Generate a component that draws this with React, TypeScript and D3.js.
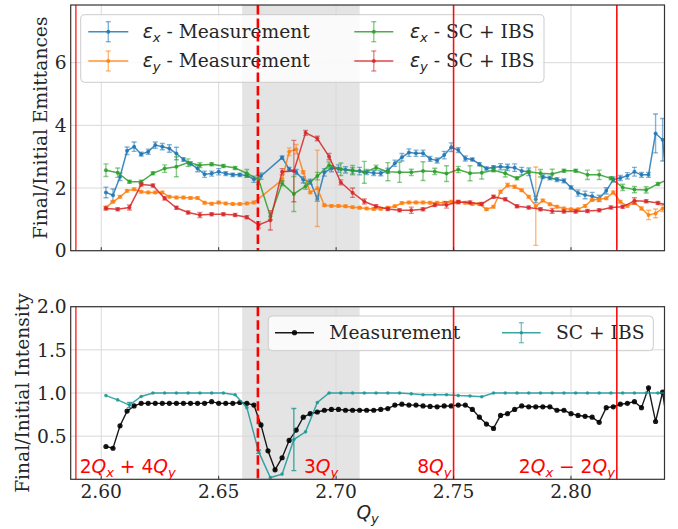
import React from 'react';
import * as d3 from 'd3';

// ---------------- data ----------------
const qMeas = [2.602, 2.605, 2.608, 2.611, 2.614, 2.617, 2.620, 2.623, 2.626, 2.629,
  2.632, 2.635, 2.638, 2.641, 2.644, 2.647, 2.650, 2.653, 2.656, 2.659,
  2.662, 2.665, 2.668, 2.671, 2.674, 2.677, 2.680, 2.683, 2.686, 2.689,
  2.692, 2.695, 2.698, 2.701, 2.704, 2.707, 2.710, 2.713, 2.716, 2.719,
  2.722, 2.725, 2.728, 2.731, 2.734, 2.737, 2.740, 2.743, 2.746, 2.749,
  2.752, 2.755, 2.758, 2.761, 2.764, 2.767, 2.770, 2.773, 2.776, 2.779,
  2.782, 2.785, 2.788, 2.791, 2.794, 2.797, 2.800, 2.803, 2.806, 2.809,
  2.812, 2.815, 2.818, 2.821, 2.824, 2.827, 2.830, 2.833, 2.836, 2.839,
  2.842];

const qSim = [2.602, 2.607, 2.612, 2.617, 2.622, 2.627, 2.632, 2.637, 2.642, 2.647,
  2.652, 2.657, 2.662, 2.667, 2.672, 2.677, 2.682, 2.687, 2.692, 2.697,
  2.702, 2.707, 2.712, 2.717, 2.722, 2.727, 2.732, 2.737, 2.742, 2.747,
  2.752, 2.757, 2.762, 2.767, 2.772, 2.777, 2.782, 2.787, 2.792, 2.797,
  2.802, 2.807, 2.812, 2.817, 2.822, 2.827, 2.832, 2.837, 2.842];

const epsXMeas = [1.86, 1.77, 2.36, 3.19, 3.32, 3.08, 3.16, 3.37, 3.32, 3.26,
  3.10, 2.91, 2.78, 2.62, 2.44, 2.46, 2.52, 2.46, 2.42, 2.42,
  2.40, 2.28, 2.38, null, null, 2.97, 2.60, 2.51, 2.26, 2.20,
  1.66, 2.50, 2.62, 2.62, 2.58, 2.55, 2.54, 2.51, 2.48, 2.47,
  2.55, 2.79, 2.98, 3.13, 3.11, 3.11, 2.93, 2.88, 3.05, 3.30,
  3.21, 2.94, 2.91, 2.76, 2.62, 2.66, 2.68, 2.66, 2.65, 2.54,
  2.52, 1.64, 2.36, 2.32, 2.27, 2.23, 2.02, 1.84, 1.78, 1.74,
  1.67, 1.91, 2.27, 2.32, 2.39, 2.52, 2.42, 2.42, 3.74, 3.54,
  1.20];
const epsXMeasErr = [0.17, 0.2, 0.12, 0.12, 0.15, 0.06, 0.08, 0.1, 0.1, 0.12,
  0.2, 0.06, 0.06, 0.1, 0.1, 0.08, 0.1, 0.06, 0.05, 0.05,
  0.06, 0.1, 0.1, 0, 0, 0.05, 0.06, 0.08, 0.1, 0.08,
  0.08, 0.12, 0.1, 0.12, 0.1, 0.1, 0.12, 0.08, 0.08, 0.08,
  0.08, 0.1, 0.12, 0.12, 0.1, 0.1, 0.08, 0.08, 0.12, 0.14,
  0.08, 0.08, 0.05, 0.05, 0.05, 0.05, 0.1, 0.1, 0.12, 0.12,
  0.12, 0.1, 0.06, 0.06, 0.06, 0.06, 0.05, 0.1, 0.12, 0.12,
  0.1, 0.1, 0.08, 0.08, 0.1, 0.14, 0.08, 0.08, 0.62, 0.68,
  0.3];

const epsYMeas = [1.38, 1.56, 1.72, 1.91, 1.96, 1.88, 1.86, 1.86, 1.86, 1.72,
  1.70, 1.70, 1.68, 1.68, 1.53, 1.50, 1.54, 1.51, 1.49, 1.49,
  1.51, 1.54, null, null, null, 2.26, 3.16, 3.24, 2.50, 1.86,
  1.99, 1.45, 1.43, 1.43, 1.42, 1.39, 1.37, 1.35, 1.33, 1.34,
  1.37, 1.42, 1.52, 1.54, 1.54, 1.54, 1.53, 1.53, 1.53, 1.56,
  1.56, 1.53, 1.49, 1.49, 1.32, 1.40, 1.88, 2.09, 2.04, 1.93,
  1.72, 1.42, 1.60, 1.48, 1.40, 1.35, 1.32, 1.32, 1.43, 1.62,
  1.64, 1.67, 1.86, 1.56, 1.43, 1.53, 1.35, 1.14, 1.19, 1.35,
  1.45];
const epsYMeasErr = [0.04, 0.04, 0.04, 0.04, 0.04, 0.04, 0.04, 0.04, 0.04, 0.04,
  0.04, 0.04, 0.04, 0.04, 0.04, 0.04, 0.04, 0.04, 0.04, 0.04,
  0.04, 0.04, 0, 0, 0, 0.05, 0.12, 0.15, 0.05, 0.04,
  1.22, 0.04, 0.04, 0.04, 0.04, 0.04, 0.04, 0.04, 0.04, 0.04,
  0.04, 0.04, 0.04, 0.04, 0.04, 0.04, 0.04, 0.04, 0.04, 0.04,
  0.04, 0.04, 0.04, 0.04, 0.04, 0.04, 0.05, 0.06, 0.05, 0.04,
  0.04, 1.25, 0.04, 0.04, 0.04, 0.04, 0.04, 0.04, 0.04, 0.04,
  0.04, 0.04, 0.05, 0.04, 0.04, 0.04, 0.05, 0.15, 0.14, 0.1,
  0.05];

const epsXSim = [2.57, 2.49, 2.20, 2.20, 2.47, 2.62, 2.68, 2.81, 2.73, 2.76,
  2.70, 2.64, 2.47, 2.26, 1.10, 2.15, 1.81, 2.06, 2.38, 2.73,
  2.60, 2.57, 2.50, 2.65, 2.52, 2.50, 2.50, 2.54, 2.53, 2.46,
  2.59, 2.47, 2.49, 2.57, 2.47, 2.31, 2.52, 2.47, 2.45, 2.55,
  2.55, 2.42, 2.42, 2.31, 2.02, 1.95, 1.94, 2.13, 2.30];
const epsXSimErr = [0.2, 0.15, 0.05, 0.05, 0.05, 0.12, 0.32, 0.12, 0.08, 0.05,
  0.05, 0.05, 0.12, 0.15, 0.1, 0.08, 0.56, 0.1, 0.12, 0.1,
  0.2, 0.15, 0.35, 0.08, 0.29, 0.32, 0.1, 0.3, 0.1, 0.25,
  0.1, 0.24, 0.2, 0.05, 0.12, 0.05, 0.05, 0.12, 0.15, 0.05,
  0.05, 0.15, 0.15, 0.05, 0.1, 0.1, 0.1, 0.05, 0.05];

const epsYSim = [1.35, 1.32, 1.38, 2.11, 2.08, 1.67, 1.37, 1.22, 1.14, 1.16,
  1.16, 1.14, 1.07, 0.82, 0.97, 2.52, 2.54, 3.76, 3.58, 3.00,
  2.18, 1.85, 1.57, 1.42, 1.33, 1.29, 1.29, 1.32, 1.46, 1.46,
  1.55, 1.54, 1.49, 1.72, 1.64, 1.42, 1.38, 1.32, 1.27, 1.25,
  1.25, 1.27, 1.29, 1.38, 1.40, 1.59, 1.58, 1.52, 1.45];
const epsYSimErr = [0.05, 0.05, 0.08, 0.05, 0.05, 0.05, 0.05, 0.05, 0.08, 0.05,
  0.05, 0.05, 0.05, 0.1, 0.31, 0.1, 0.98, 0.08, 0.07, 0.1,
  0.08, 0.15, 0.08, 0.05, 0.05, 0.05, 0.1, 0.05, 0.05, 0.1,
  0.05, 0.05, 0.05, 0.05, 0.05, 0.05, 0.05, 0.05, 0.08, 0.05,
  0.05, 0.05, 0.05, 0.05, 0.05, 0.1, 0.05, 0.05, 0.05];

const intMeas = [0.38, 0.36, 0.62, 0.79, 0.85, 0.88, 0.88, 0.88, 0.88, 0.88,
  0.88, 0.88, 0.88, 0.88, 0.88, 0.90, 0.88, 0.88, 0.88, 0.89,
  0.88, 0.86, 0.63, 0.33, 0.11, 0.25, 0.45, 0.57, 0.72, 0.76,
  0.78, 0.80, 0.81, 0.81, 0.80, 0.80, 0.80, 0.80, 0.80, 0.81,
  0.82, 0.86, 0.87, 0.86, 0.86, 0.85, 0.845, 0.84, 0.85, 0.85,
  0.86, 0.86, 0.81, 0.72, 0.64, 0.59, 0.74, 0.76, 0.81, 0.85,
  0.84, 0.84, 0.84, 0.84, 0.80, 0.80, 0.76, 0.74, 0.73, 0.72,
  0.66, 0.83, 0.84, 0.87, 0.88, 0.90, 0.83, 1.06, 0.67, 1.01,
  0.45];

const intSim = [0.97, 0.92, 0.86, 0.96, 1.0, 1.0, 1.0, 1.0, 1.0, 1.0,
  1.0, 0.98, 0.83, 0.32, 0.02, 0.06, 0.46, 0.55, 0.89, 1.0,
  1.0, 1.0, 1.0, 1.0, 1.0, 1.0, 0.99, 0.98, 0.98, 0.98,
  0.97, 0.965, 0.957, 1.0, 1.0, 1.0, 1.0, 1.0, 1.0, 1.0,
  1.0, 1.0, 1.0, 1.0, 1.0, 1.0, 1.0, 1.0, 1.0];
const intSimErr = [0, 0, 0.03, 0, 0, 0, 0, 0, 0, 0,
  0, 0, 0, 0.02, 0, 0, 0.36, 0, 0, 0,
  0, 0, 0, 0, 0, 0, 0, 0, 0, 0,
  0, 0, 0, 0, 0, 0, 0, 0, 0, 0,
  0, 0, 0, 0, 0, 0, 0, 0, 0];

const xTicks = [2.60, 2.65, 2.70, 2.75, 2.80];
const xTickLabels = ['2.60', '2.65', '2.70', '2.75', '2.80'];
const yTicksTop = [0, 2, 4, 6];
const yTickLabelsTop = ['0', '2', '4', '6'];
const yTicksBottom = [0.5, 1.0, 1.5, 2.0];
const yTickLabelsBottom = ['0.5', '1.0', '1.5', '2.0'];
const resonanceLines = [2.5892, 2.75, 2.8195];
const resonanceDashed = [2.6667];
const shadedSpan = [2.66, 2.71];

// ---------------- layout ----------------
const W = 678, H = 529;
const L = 70.7, R = 664.5;
const T1 = 5, B1 = 250.7;
const T2 = 306.7, B2 = 479.3;
const FS = 18.67;
const FSUB = 13.1;

const COLORS = {
  blue: '#1f77b4', orange: '#ff7f0e', green: '#2ca02c', red: '#d62728', teal: '#1a9696', black: '#000000',
};
const TXT = '#262626';
const SERIF = 'DejaVu Serif, serif';
const SANS = 'DejaVu Sans, sans-serif';

type SeriesProps = {
  xs: number[]; ys: (number | null)[]; errs?: number[]; color: string;
  xS: (v: number) => number; yS: (v: number) => number; r?: number; lw?: number;
  alpha?: number; errAlpha?: number; cap?: number;
};

function Series({ xs, ys, errs, color, xS, yS, r = 2, lw = 1.5, alpha = 0.85, errAlpha = 0.55, cap = 2.5 }: SeriesProps) {
  const pts = xs.map((q, i) => ({ q, v: ys[i], e: errs ? errs[i] : 0 })).filter(p => p.v !== null && p.v !== undefined) as { q: number; v: number; e: number }[];
  const line = d3.line<{ q: number; v: number }>().x(p => xS(p.q)).y(p => yS(p.v));
  return (
    <g>
      {pts.filter(p => p.e > 0).map((p, i) => {
        const x = xS(p.q), y1 = yS(p.v - p.e), y2 = yS(p.v + p.e);
        return (
          <g key={i} stroke={color} strokeOpacity={errAlpha} strokeWidth={1.4}>
            <line x1={x} x2={x} y1={y1} y2={y2} />
            <line x1={x - cap} x2={x + cap} y1={y1} y2={y1} />
            <line x1={x - cap} x2={x + cap} y1={y2} y2={y2} />
          </g>
        );
      })}
      <path d={line(pts) || ''} fill="none" stroke={color} strokeWidth={lw} strokeOpacity={alpha} />
      {pts.map((p, i) => (
        <circle key={i} cx={xS(p.q)} cy={yS(p.v)} r={r} fill={color} fillOpacity={alpha} />
      ))}
    </g>
  );
}

function Handle({ x0, x1, y, color, err = true, r = 2, alpha = 0.85 }: { x0: number; x1: number; y: number; color: string; err?: boolean; r?: number; alpha?: number }) {
  const xc = (x0 + x1) / 2;
  return (
    <g>
      {err && (
        <g stroke={color} strokeOpacity={0.55} strokeWidth={1.4}>
          <line x1={xc} x2={xc} y1={y - 10} y2={y + 10} />
          <line x1={xc - 2.5} x2={xc + 2.5} y1={y - 10} y2={y - 10} />
          <line x1={xc - 2.5} x2={xc + 2.5} y1={y + 10} y2={y + 10} />
        </g>
      )}
      <line x1={x0} x2={x1} y1={y} y2={y} stroke={color} strokeWidth={1.5} strokeOpacity={alpha} />
      <circle cx={xc} cy={y} r={r} fill={color} fillOpacity={alpha} />
    </g>
  );
}

function EpsLabel({ x, y, sub, rest }: { x: number; y: number; sub: string; rest: string }) {
  return (
    <text x={x} y={y} fontFamily={SERIF} fontSize={FS} fill={TXT}>
      <tspan fontFamily={SANS} fontStyle="italic">ε</tspan>
      <tspan fontFamily={SANS} fontStyle="italic" fontSize={FSUB} dy={3.6}>{sub}</tspan>
      <tspan dy={-3.6}>{rest}</tspan>
    </text>
  );
}

function MathQ({ parts, x, y, anchor = 'start' }: { parts: { t: string; it?: boolean; sub?: boolean }[]; x: number; y: number; anchor?: string }) {
  let shifted = false;
  return (
    <text x={x} y={y} fontFamily={SANS} fontSize={FS} fill="red" textAnchor={anchor as any}>
      {parts.map((p, i) => {
        let dy = 0;
        if (p.sub && !shifted) { dy = 3.6; shifted = true; }
        else if (!p.sub && shifted) { dy = -3.6; shifted = false; }
        return (
          <tspan key={i} fontStyle={p.it ? 'italic' : 'normal'} fontSize={p.sub ? FSUB : FS} dy={dy}>{p.t}</tspan>
        );
      })}
    </text>
  );
}

export default function App() {
  const x = d3.scaleLinear().domain([2.587, 2.8398]).range([L, R]);
  const yTop = d3.scaleLinear().domain([0, 7.84]).range([B1, T1]);
  const yBot = d3.scaleLinear().domain([0, 2]).range([B2, T2]);

  const grid = '#d9d9d9';
  const spineColor = '#333333';

  const panelBase = (T: number, B: number, yS: (v: number) => number, yTicks: number[], yLabels: string[]) => (
    <g>
      <rect x={x(shadedSpan[0])} y={T} width={x(shadedSpan[1]) - x(shadedSpan[0])} height={B - T} fill="#e4e4e4" />
      {xTicks.map((t, i) => (
        <line key={'gx' + i} x1={x(t)} x2={x(t)} y1={T} y2={B} stroke={grid} strokeWidth={1} />
      ))}
      {yTicks.map((t, i) => (
        <line key={'gy' + i} x1={L} x2={R} y1={yS(t)} y2={yS(t)} stroke={grid} strokeWidth={1} />
      ))}
      {yTicks.map((t, i) => (
        <text key={'ty' + i} x={L - 4} y={yS(t) + 6.7} textAnchor="end" fontFamily={SERIF} fontSize={FS} fill={TXT}>{yLabels[i]}</text>
      ))}
    </g>
  );

  const panelFront = (T: number, B: number) => (
    <g>
      {xTicks.map((t, i) => (
        <line key={'tk' + i} x1={x(t)} x2={x(t)} y1={B} y2={B - 3.5} stroke={spineColor} strokeWidth={1} />
      ))}
      <rect x={L} y={T} width={R - L} height={B - T} fill="none" stroke={spineColor} strokeWidth={1.2} />
    </g>
  );

  const resLines = (T: number, B: number) => (
    <g>
      {resonanceLines.map((q, i) => (
        <line key={'rl' + i} x1={x(q)} x2={x(q)} y1={T} y2={B} stroke="red" strokeWidth={1.6} strokeOpacity={i === 0 ? 0.75 : 0.95} />
      ))}
      {resonanceDashed.map((q, i) => (
        <line key={'rd' + i} x1={x(q)} x2={x(q)} y1={T} y2={B} stroke="red" strokeWidth={2.6} strokeDasharray="9.5,4" />
      ))}
    </g>
  );

  return (
    <svg width={W} height={H} style={{ position: 'absolute', left: 0, top: 0, background: 'white' }}>
      <defs>
        <clipPath id="clipTop"><rect x={L} y={T1} width={R - L} height={B1 - T1} /></clipPath>
        <clipPath id="clipBot"><rect x={L} y={T2} width={R - L} height={B2 - T2} /></clipPath>
      </defs>
      <rect x={0} y={0} width={W} height={H} fill="white" />

      {/* ---------- top panel ---------- */}
      {panelBase(T1, B1, yTop, yTicksTop, yTickLabelsTop)}
      <g clipPath="url(#clipTop)">
        <Series xs={qMeas} ys={epsXMeas} errs={epsXMeasErr} color={COLORS.blue} xS={x} yS={yTop} />
        <Series xs={qMeas} ys={epsYMeas} errs={epsYMeasErr} color={COLORS.orange} xS={x} yS={yTop} />
        <Series xs={qSim} ys={epsXSim} errs={epsXSimErr} color={COLORS.green} xS={x} yS={yTop} />
        <Series xs={qSim} ys={epsYSim} errs={epsYSimErr} color={COLORS.red} xS={x} yS={yTop} />
      </g>
      {/* legend top */}
      <rect x={80.7} y={14.7} width={463.3} height={67.6} rx={4} fill="white" fillOpacity={0.8} stroke="#cccccc" strokeWidth={1} />
      <Handle x0={88.3} x1={128.3} y={31.7} color={COLORS.blue} />
      <EpsLabel x={142.7} y={37.9} sub="x" rest=" - Measurement" />
      <Handle x0={88.3} x1={128.3} y={61} color={COLORS.orange} />
      <EpsLabel x={142.7} y={67.2} sub="y" rest=" - Measurement" />
      <Handle x0={354.3} x1={393.3} y={31.7} color={COLORS.green} />
      <EpsLabel x={410} y={37.9} sub="x" rest=" - SC + IBS" />
      <Handle x0={354.3} x1={393.3} y={61} color={COLORS.red} />
      <EpsLabel x={410} y={67.2} sub="y" rest=" - SC + IBS" />
      {resLines(T1, B1)}
      {panelFront(T1, B1)}
      <text transform={`translate(46.5,${(T1 + B1) / 2}) rotate(-90)`} textAnchor="middle" fontFamily={SERIF} fontSize={FS} fill={TXT}>Final/Initial Emittances</text>

      {/* ---------- bottom panel ---------- */}
      {panelBase(T2, B2, yBot, yTicksBottom, yTickLabelsBottom)}
      <g clipPath="url(#clipBot)">
        <Series xs={qMeas} ys={intMeas} color={COLORS.black} xS={x} yS={yBot} r={2.6} lw={1.4} alpha={0.9} />
        <Series xs={qSim} ys={intSim} errs={intSimErr} color={COLORS.teal} xS={x} yS={yBot} r={1.8} lw={1.5} alpha={0.85} errAlpha={0.8} />
      </g>
      {/* legend bottom */}
      <rect x={268.3} y={316} width={385} height={34.7} rx={4} fill="white" fillOpacity={0.8} stroke="#cccccc" strokeWidth={1} />
      <Handle x0={275} x1={314} y={332.7} color={COLORS.black} err={false} r={2.6} alpha={0.9} />
      <text x={329.3} y={339} fontFamily={SERIF} fontSize={FS} fill={TXT}>Measurement</text>
      <Handle x0={502} x1={540.7} y={332.7} color={COLORS.teal} r={1.8} />
      <text x={556} y={339} fontFamily={SERIF} fontSize={FS} fill={TXT}>SC + IBS</text>
      {resLines(T2, B2)}
      <MathQ x={x(2.5908)} y={yBot(0.07)} parts={[{ t: '2' }, { t: 'Q', it: true }, { t: 'x', it: true, sub: true }, { t: ' + 4' }, { t: 'Q', it: true }, { t: 'y', it: true, sub: true }]} />
      <MathQ x={x(2.6863)} y={yBot(0.07)} parts={[{ t: '3' }, { t: 'Q', it: true }, { t: 'y', it: true, sub: true }]} />
      <MathQ x={x(2.7491)} y={yBot(0.07)} anchor="end" parts={[{ t: '8' }, { t: 'Q', it: true }, { t: 'y', it: true, sub: true }]} />
      <MathQ x={x(2.8187)} y={yBot(0.07)} anchor="end" parts={[{ t: '2' }, { t: 'Q', it: true }, { t: 'x', it: true, sub: true }, { t: ' − 2' }, { t: 'Q', it: true }, { t: 'y', it: true, sub: true }]} />
      {panelFront(T2, B2)}
      {xTicks.map((t, i) => (
        <text key={'xl' + i} x={x(t)} y={497.5} textAnchor="middle" fontFamily={SERIF} fontSize={FS} fill={TXT}>{xTickLabels[i]}</text>
      ))}
      <text x={(L + R) / 2} y={519} textAnchor="middle" fontFamily={SANS} fontSize={FS} fill={TXT}>
        <tspan fontStyle="italic">Q</tspan>
        <tspan fontStyle="italic" fontSize={FSUB} dy={3.6}>y</tspan>
      </text>
      <text transform={`translate(29,${(T2 + B2) / 2}) rotate(-90)`} textAnchor="middle" fontFamily={SERIF} fontSize={FS} fill={TXT}>Final/Initial Intensity</text>
    </svg>
  );
}
